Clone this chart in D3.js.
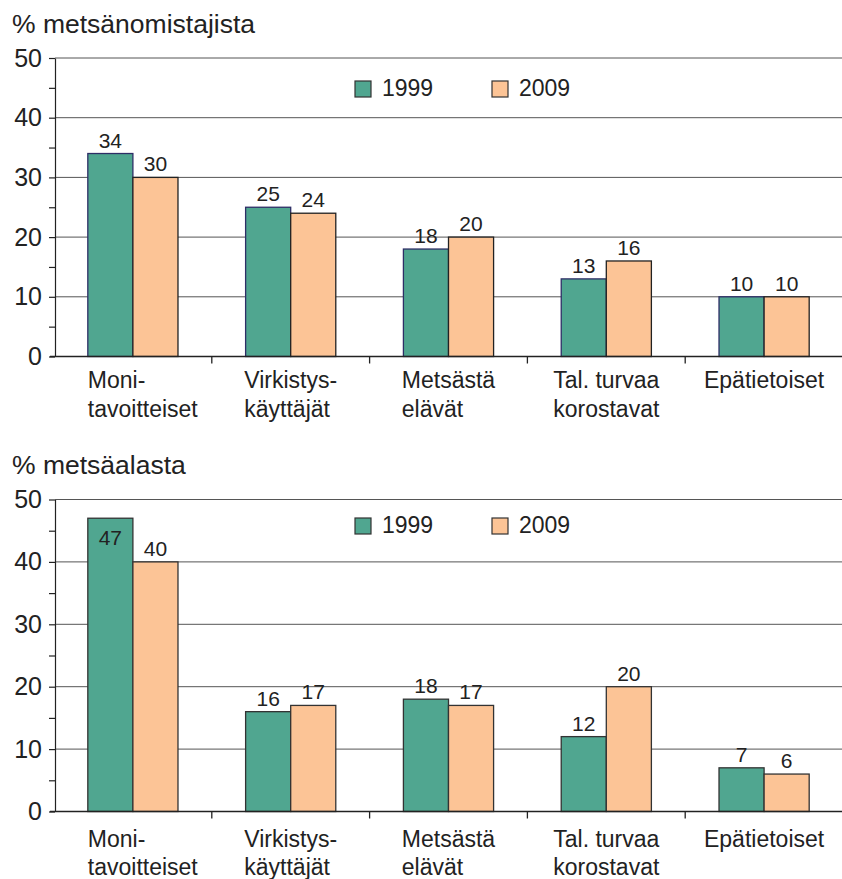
<!DOCTYPE html>
<meta charset="utf-8">
<title>Metsänomistajat</title>
<style>
    body { margin: 0; background: #fff; }
    text { font-family: "Liberation Sans", Arial, sans-serif; fill: #222; }
    .grid { stroke: #555; stroke-width: 1; }
    .axis path, .axis line { stroke: #222; stroke-width: 1.2; }
</style>
<body>
</body>

<script src="https://d3js.org/d3.v7.min.js"></script>
<script>
    const width = 842, height = 879;

    const categories = [["Moni-", "tavoitteiset"], ["Virkistys-", "käyttäjät"], ["Metsästä", "elävät"],
        ["Tal. turvaa", "korostavat"], ["Epätietoiset"]];
    const years = ["1999", "2009"];
    const owners1999 = [34, 25, 18, 13, 10];
    const owners2009 = [30, 24, 20, 16, 10];
    const area1999 = [47, 16, 18, 12, 7];
    const area2009 = [40, 17, 17, 20, 6];
    const yTicks = [0, 10, 20, 30, 40, 50];
    const yMinor = [5, 15, 25, 35, 45];

    const colors = {"1999": "#50a690", "2009": "#fcc496"};

    const panels = [
        {title: "% metsänomistajista", titleY: 33, y0: 356.5, y1: 58, legendY: 81, labelY: 388,
            values: [owners1999, owners2009], stroke: {"1999": "#2e2e66", "2009": "#222"}},
        {title: "% metsäalasta", titleY: 474, y0: 811.5, y1: 499.5, legendY: 518, labelY: 846.5,
            values: [area1999, area2009], stroke: {"1999": "#333", "2009": "#333"}}
    ];

    const svg = d3.select("body").append("svg")
        .attr("width", width)
        .attr("height", height);

    const x = d3.scaleBand()
        .domain(d3.range(categories.length))
        .range([54, 843]);

    const xInner = d3.scaleBand()
        .domain(years)
        .range([0, x.bandwidth()])
        .paddingOuter(0.75);

    panels.forEach(p => {
        const g = svg.append("g");
        const y = d3.scaleLinear().domain([0, 50]).range([p.y0, p.y1]);

        g.append("text")
            .attr("x", 12)
            .attr("y", p.titleY)
            .style("font-size", "26.5px")
            .text(p.title);

        // gridlines
        g.append("g").selectAll("line")
            .data(yTicks.slice(1))
            .join("line")
            .attr("class", "grid")
            .attr("x1", 55).attr("x2", width)
            .attr("y1", d => y(d)).attr("y2", d => y(d));

        // y axis with minor ticks
        g.append("g")
            .attr("class", "axis")
            .attr("transform", "translate(55,0)")
            .call(d3.axisLeft(y).tickValues(yMinor).tickSize(6).tickFormat(""))
            .call(a => a.select(".domain").remove());

        const yAxis = g.append("g")
            .attr("class", "axis")
            .attr("transform", "translate(55,0)")
            .call(d3.axisLeft(y).tickValues(yTicks).tickSizeInner(6).tickSizeOuter(0).tickPadding(7));
        yAxis.selectAll("text")
            .style("font-size", "25px")
            .style("font-family", "Liberation Sans, Arial, sans-serif")
            .attr("fill", "#222");

        // bars
        const rows = [];
        categories.forEach((c, i) => {
            years.forEach((yr, k) => rows.push({i, yr, v: p.values[k][i]}));
        });

        g.append("g").selectAll("rect")
            .data(rows)
            .join("rect")
            .attr("x", d => x(d.i) + xInner(d.yr))
            .attr("width", xInner.bandwidth())
            .attr("y", d => y(d.v))
            .attr("height", d => y(0) - y(d.v))
            .attr("fill", d => colors[d.yr])
            .attr("stroke", d => p.stroke[d.yr])
            .attr("stroke-width", 1.3);

        g.append("g").selectAll("text")
            .data(rows)
            .join("text")
            .attr("x", d => x(d.i) + xInner(d.yr) + xInner.bandwidth() / 2)
            .attr("y", d => y(d.v) - 22 < p.y1 ? y(d.v) + 27 : y(d.v) - 6)
            .attr("text-anchor", "middle")
            .style("font-size", "21px")
            .text(d => d.v);

        // x axis
        g.append("line")
            .attr("x1", 50).attr("x2", width)
            .attr("y1", y(0)).attr("y2", y(0))
            .attr("stroke", "#222").attr("stroke-width", 1.3);
        g.append("g").selectAll("line")
            .data(d3.range(1, categories.length))
            .join("line")
            .attr("x1", d => x(d)).attr("x2", d => x(d))
            .attr("y1", y(0)).attr("y2", y(0) + 7)
            .attr("stroke", "#222").attr("stroke-width", 1.3);

        // category labels: lines left aligned, block centred on band,
        // but never starting left of the first bar
        const firstBar = x(0) + xInner(years[0]);
        const lab = g.append("g").selectAll("text")
            .data(categories)
            .join("text")
            .style("font-size", "23px");
        lab.each(function (c, i) {
            const t = d3.select(this);
            c.forEach((line, j) => {
                t.append("tspan")
                    .attr("y", p.labelY + j * 28.5)
                    .text(line);
            });
            const w = d3.max(t.selectAll("tspan").nodes(), n => n.getComputedTextLength());
            t.selectAll("tspan").attr("x", Math.max(firstBar, x(i) + x.bandwidth() / 2 - w / 2));
        });

        // legend
        const leg = g.append("g").selectAll("g")
            .data(years)
            .join("g")
            .attr("transform", (d, k) => `translate(${355 + k * 137},${p.legendY})`);
        leg.append("rect")
            .attr("width", 16).attr("height", 16)
            .attr("fill", d => colors[d])
            .attr("stroke", "#333").attr("stroke-width", 1.2);
        leg.append("text")
            .attr("x", 27).attr("y", 15)
            .style("font-size", "23px")
            .text(d => d);
    });
</script>
